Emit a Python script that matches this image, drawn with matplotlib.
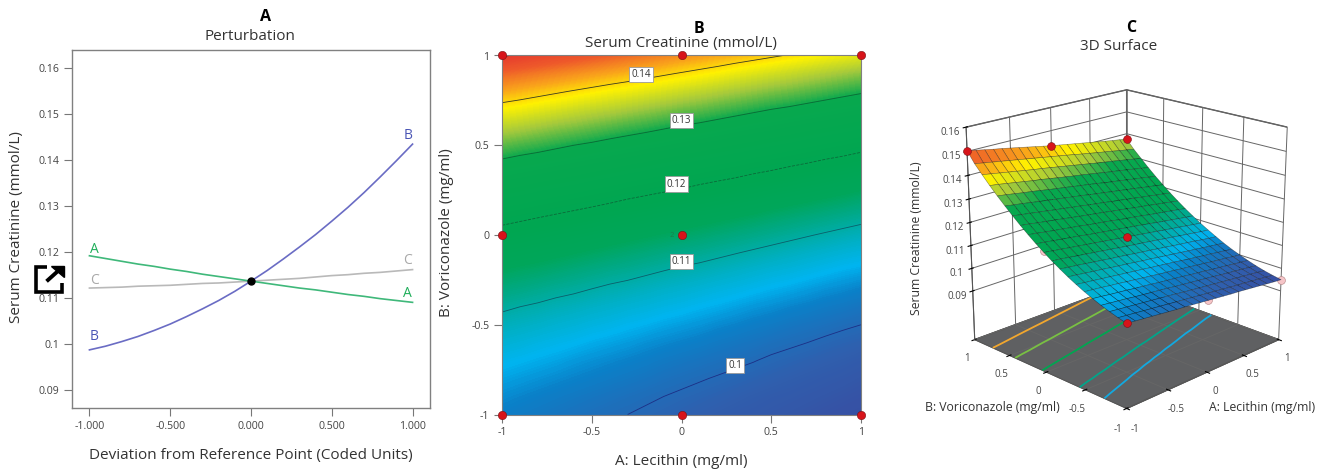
import matplotlib
matplotlib.use('Agg')
import numpy as np
import matplotlib.pyplot as plt
from matplotlib.colors import LinearSegmentedColormap, Normalize
from matplotlib.lines import Line2D
from matplotlib.patches import Polygon

plt.rcParams['font.family'] = ['Open Sans', 'DejaVu Sans']

W, H = 1325, 473

# Perturbation curves
dev = [-1.0, -0.9, -0.8, -0.7, -0.6, -0.5, -0.4, -0.3, -0.2, -0.1, 0.0,
       0.1, 0.2, 0.3, 0.4, 0.5, 0.6, 0.7, 0.8, 0.9, 1.0]
curve_a = [.1192, .1186, .1180, .1174, .1169, .1163, .1158, .1152, .1147, .1142, .1137,
           .1132, .1127, .1122, .1118, .1113, .1108, .1104, .1099, .1095, .1091]
curve_b = [.0988, .0996, .1006, .1017, .1030, .1044, .1060, .1077, .1095, .1115, .1137,
           .1160, .1185, .1211, .1238, .1267, .1297, .1329, .1363, .1398, .1434]
curve_c = [.1122, .1123, .1124, .1126, .1127, .1128, .1130, .1132, .1133, .1135, .1137,
           .1139, .1141, .1143, .1146, .1149, .1151, .1154, .1156, .1159, .1162]

# Response surface: rows are B (-1 to 1), columns are A (-1 to 1)
coded = dev
surface = [
    [.1027, .1023, .1019, .1015, .1011, .1007, .1003, .1000, .0996, .0992, .0988, .0984, .0980, .0976, .0973, .0969, .0965, .0961, .0957, .0953, .0950],
    [.1036, .1032, .1028, .1024, .1020, .1016, .1012, .1008, .1004, .1000, .0996, .0992, .0988, .0984, .0980, .0976, .0973, .0969, .0965, .0961, .0957],
    [.1047, .1043, .1039, .1035, .1031, .1027, .1023, .1019, .1015, .1010, .1006, .1002, .0998, .0994, .0990, .0986, .0982, .0978, .0974, .0970, .0965],
    [.1059, .1055, .1051, .1047, .1042, .1038, .1034, .1030, .1026, .1021, .1017, .1013, .1009, .1005, .1001, .0996, .0992, .0988, .0984, .0980, .0975],
    [.1073, .1069, .1064, .1060, .1056, .1051, .1047, .1043, .1038, .1034, .1030, .1026, .1021, .1017, .1013, .1008, .1004, .1000, .0995, .0991, .0987],
    [.1088, .1084, .1080, .1075, .1071, .1066, .1062, .1057, .1053, .1048, .1044, .1040, .1035, .1031, .1026, .1022, .1017, .1013, .1009, .1004, .1000],
    [.1105, .1100, .1096, .1091, .1087, .1082, .1078, .1073, .1069, .1064, .1060, .1055, .1051, .1046, .1041, .1037, .1032, .1028, .1023, .1019, .1014],
    [.1123, .1119, .1114, .1109, .1105, .1100, .1095, .1091, .1086, .1081, .1077, .1072, .1067, .1063, .1058, .1053, .1049, .1044, .1039, .1035, .1030],
    [.1143, .1138, .1134, .1129, .1124, .1119, .1114, .1110, .1105, .1100, .1095, .1091, .1086, .1081, .1076, .1071, .1067, .1062, .1057, .1052, .1048],
    [.1164, .1160, .1155, .1150, .1145, .1140, .1135, .1130, .1125, .1120, .1115, .1111, .1106, .1101, .1096, .1091, .1086, .1081, .1076, .1071, .1067],
    [.1187, .1182, .1177, .1172, .1167, .1162, .1157, .1152, .1147, .1142, .1137, .1132, .1127, .1122, .1117, .1112, .1107, .1102, .1097, .1092, .1087],
    [.1211, .1206, .1201, .1196, .1191, .1186, .1180, .1175, .1170, .1165, .1160, .1155, .1150, .1145, .1140, .1134, .1129, .1124, .1119, .1114, .1109],
    [.1237, .1232, .1226, .1221, .1216, .1211, .1206, .1200, .1195, .1190, .1185, .1179, .1174, .1169, .1164, .1158, .1153, .1148, .1143, .1138, .1132],
    [.1264, .1259, .1253, .1248, .1243, .1237, .1232, .1226, .1221, .1216, .1211, .1205, .1200, .1195, .1189, .1184, .1179, .1173, .1168, .1162, .1157],
    [.1293, .1287, .1282, .1276, .1271, .1265, .1260, .1254, .1249, .1243, .1238, .1233, .1227, .1222, .1216, .1211, .1205, .1200, .1194, .1189, .1183],
    [.1323, .1317, .1312, .1306, .1300, .1295, .1289, .1284, .1278, .1273, .1267, .1261, .1256, .1250, .1245, .1239, .1234, .1228, .1222, .1217, .1211],
    [.1354, .1349, .1343, .1337, .1332, .1326, .1320, .1314, .1309, .1303, .1297, .1292, .1286, .1280, .1274, .1269, .1263, .1257, .1252, .1246, .1240],
    [.1387, .1382, .1376, .1370, .1364, .1358, .1353, .1347, .1341, .1335, .1329, .1324, .1318, .1312, .1306, .1300, .1295, .1289, .1283, .1277, .1271],
    [.1422, .1416, .1410, .1404, .1398, .1392, .1386, .1381, .1375, .1369, .1363, .1357, .1351, .1345, .1339, .1333, .1328, .1322, .1316, .1310, .1304],
    [.1458, .1452, .1446, .1440, .1434, .1428, .1422, .1416, .1410, .1404, .1398, .1392, .1386, .1379, .1373, .1367, .1361, .1355, .1349, .1343, .1337],
    [.1503, .1496, .1489, .1482, .1476, .1469, .1462, .1455, .1448, .1441, .1434, .1428, .1422, .1416, .1410, .1404, .1398, .1392, .1386, .1381, .1375],
]

# Design points
pt_a = [-1, 0, 1, -1, 0, -1, 0, 1]
pt_b = [1, 1, 1, 0, 0, -1, -1, -1]
pt_z = [.1503, .1434, .1375, .1192, .1137, .1027, .0988, .0950]
pt_hidden = [False, False, False, True, False, False, True, True]

contour_levels = [.10, .11, .12, .13, .14, .15]
contour_colors = ['#1c2f86', '#0b5f6a', '#0b6b3a', '#0a6a35', '#3a3a20', '#7a1a10']
contour_styles = ['-', '-', '--', '-', '-', '-']
label_a = [.298, 0, -.027, 0, -.226]
label_b = [-.728, -.148, .284, .638, .893]
label_txt = ['0.1', '0.11', '0.12', '0.13', '0.14']

floor_levels = [.1055, .11, .12, .13, .14]
floor_colors = ['#12a9e0', '#00a58a', '#00a651', '#79c043', '#f2a72e']

cmap_vals = [.0935, .0985, .1030, .1055, .1085, .1115, .1145, .1190, .1300, .1345, .1390, .1425, .1465, .1505]
cmap_cols = ['#3a4a9f', '#2f5fae', '#0a80c8', '#00b4f0', '#00afc0', '#00a98a', '#00a65a', '#00a651',
             '#08a84e', '#a4c93c', '#fff200', '#f9a11b', '#ee5a2a', '#e5382e']


def px_rect(l, t, r, b):
    return [l / W, 1 - b / H, (r - l) / W, (b - t) / H]


def label(x, y, s, size=11, **kw):
    kw.setdefault('color', '#333333')
    fig.text(x / W, 1 - y / H, s, fontsize=size, ha='center', va='center', **kw)


fig = plt.figure(figsize=(W / 100, H / 100), dpi=100)

z = np.array(surface)
zmin, zmax = cmap_vals[0], cmap_vals[-1]
cmap = LinearSegmentedColormap.from_list(
    'de', [((v - zmin) / (zmax - zmin), c) for v, c in zip(cmap_vals, cmap_cols)], N=512)
norm = Normalize(zmin, zmax)

# ---- A
ax = fig.add_axes(px_rect(72, 50, 430, 408))
ax.plot(dev, curve_c, color='#b9b9b9', lw=1.2)
ax.plot(dev, curve_a, color='#3fb87a', lw=1.2)
ax.plot(dev, curve_b, color='#6a6cc4', lw=1.2)
ax.plot([0], [curve_b[10]], 'o', color='black', ms=5)
ax.set_xlim(-1.108, 1.108)
ax.set_ylim(.0862, .1638)
ax.set_xticks([-1, -.5, 0, .5, 1])
ax.set_xticklabels(['-1.000', '-0.500', '0.000', '0.500', '1.000'])
ax.set_yticks([.09, .10, .11, .12, .13, .14, .15, .16])
ax.set_yticklabels(['0.09', '0.1', '0.11', '0.12', '0.13', '0.14', '0.15', '0.16'])
ax.tick_params(labelsize=7.6, length=6, width=.8, color='#777777', labelcolor='#444444', pad=3)
for s in ax.spines.values():
    s.set_color('#808080')
    s.set_linewidth(1)
ax.text(-.97, .1205, 'A', color='#1fae5a', fontsize=10, ha='center', va='center')
ax.text(.97, .1111, 'A', color='#1fae5a', fontsize=10, ha='center', va='center')
ax.text(-.97, .1018, 'B', color='#4a55b5', fontsize=10, ha='center', va='center')
ax.text(.97, .1453, 'B', color='#4a55b5', fontsize=10, ha='center', va='center')
ax.text(-.97, .1138, 'C', color='#a8a8a8', fontsize=10, ha='center', va='center')
ax.text(.97, .1182, 'C', color='#a8a8a8', fontsize=10, ha='center', va='center')

label(266, 17, 'A', size=11.5, fontweight='bold', color='black')
label(250, 37, 'Perturbation')
label(251, 455, 'Deviation from Reference Point (Coded Units)')
label(17, 227, 'Serum Creatinine (mmol/L)', rotation=90)

# icon sitting over the axis labels
ix = lambda x: x / W
iy = lambda y: 1 - y / H
fig.add_artist(Line2D([ix(v) for v in (47, 36, 36, 62, 62)], [iy(v) for v in (267, 267, 292, 292, 283)],
                      color='black', lw=2.6, solid_joinstyle='miter', solid_capstyle='butt', zorder=10))
fig.add_artist(Line2D([ix(48), ix(58)], [iy(280), iy(271)], color='black', lw=2.8, zorder=10))
fig.add_artist(Polygon([(ix(51), iy(266)), (ix(63.5), iy(266)), (ix(63.5), iy(277))],
                       closed=True, color='black', transform=fig.transFigure, zorder=10))

# ---- B
ax = fig.add_axes(px_rect(502, 55.5, 861, 414.5))
ax.contourf(coded, coded, z, levels=np.linspace(.094, .1505, 300), cmap=cmap, norm=norm,
            antialiased=False, extend='both')
ax.contour(coded, coded, z, levels=contour_levels, colors=contour_colors,
           linewidths=.6, linestyles=contour_styles)
for a, b, t in zip(label_a, label_b, label_txt):
    ax.text(a, b, t, fontsize=7, color='#333333', ha='center', va='center', zorder=4,
            bbox=dict(boxstyle='square,pad=0.22', fc='white', ec='#999999', lw=.6))
ax.text(-.055, -.005, '2', fontsize=5.5, color='#1b7f4a', ha='center', va='center')
ax.plot(pt_a, pt_b, 'o', color='#d7141a', mec='#7a1015', mew=.4, ms=6, clip_on=False, zorder=5)
ax.set_xlim(-1, 1)
ax.set_ylim(-1, 1)
ax.set_xticks([-1, -.5, 0, .5, 1])
ax.set_xticklabels(['-1', '-0.5', '0', '0.5', '1'])
ax.set_yticks([-1, -.5, 0, .5, 1])
ax.set_yticklabels(['-1', '-0.5', '0', '0.5', '1'])
ax.tick_params(labelsize=7.6, length=6, width=.8, color='#777777', labelcolor='#444444', pad=3)
for s in ax.spines.values():
    s.set_color('#808080')

label(699, 29, 'B', size=11.5, fontweight='bold', color='black')
label(681, 43, 'Serum Creatinine (mmol/L)')
label(681, 461, 'A: Lecithin (mg/ml)')
label(447, 233, 'B: Voriconazole (mg/ml)', rotation=90)

# ---- C
ax = fig.add_axes(px_rect(911, 32, 1331, 452), projection='3d', computed_zorder=False)
ax.patch.set_alpha(0)
ax.set_proj_type('persp', focal_length=.6)
ax.view_init(elev=19.5, azim=225)
ax.set_box_aspect((1, 1, 1.02), zoom=.89)
X, Y = np.meshgrid(coded, coded)
floor_z = .068
ax.contour(X, Y, z, levels=floor_levels, colors=floor_colors, zdir='z', offset=floor_z,
           linewidths=1.3, zorder=1)
hid = [i for i, h in enumerate(pt_hidden) if h]
vis = [i for i, h in enumerate(pt_hidden) if not h]
ax.scatter([pt_a[i] for i in hid], [pt_b[i] for i in hid], [pt_z[i] for i in hid],
           color='#f6c5c8', edgecolor='#b08080', linewidth=.4, s=32, depthshade=False, zorder=2)
ax.plot_surface(X, Y, z, facecolors=cmap(norm(z)), rstride=1, cstride=1, shade=False,
                edgecolor=(0, 0, 0, .45), linewidth=.4, zorder=3)
ax.scatter([pt_a[i] for i in vis], [pt_b[i] for i in vis], [pt_z[i] for i in vis],
           color='#d7141a', edgecolor='#7a1015', linewidth=.4, s=32, depthshade=False, zorder=4)
ax.set_xlim(-1, 1)
ax.set_ylim(-1, 1)
ax.set_zlim(floor_z, .16)
ax.set_xticks([-1, -.5, 0, .5, 1])
ax.set_xticklabels(['-1', '-0.5', '0', '0.5', '1'])
ax.set_yticks([-1, -.5, 0, .5, 1])
ax.set_yticklabels(['-1', '-0.5', '0', '0.5', '1'])
ax.set_zticks([.09, .10, .11, .12, .13, .14, .15, .16])
ax.set_zticklabels(['0.09', '0.1', '0.11', '0.12', '0.13', '0.14', '0.15', '0.16'])
ax.tick_params(labelsize=7, labelcolor='#444444', pad=0, length=3)
ax.xaxis.set_pane_color('white')
ax.yaxis.set_pane_color('white')
ax.zaxis.set_pane_color('#5f6062')
for a in (ax.xaxis, ax.yaxis, ax.zaxis):
    a.pane.set_edgecolor('#555555')
    a._axinfo['grid'].update(color='#666666', linewidth=.7)
    a.line.set_color('#555555')

label(1131, 28, 'C', size=11.5, fontweight='bold', color='black')
label(1119, 47, '3D Surface')
label(1262, 407, 'A: Lecithin (mg/ml)', size=8.8)
label(992, 407, 'B: Voriconazole (mg/ml)', size=8.8)
label(917, 238, 'Serum Creatinine (mmol/L)', size=8.8, rotation=90)

fig.savefig('out.png', dpi=100)
